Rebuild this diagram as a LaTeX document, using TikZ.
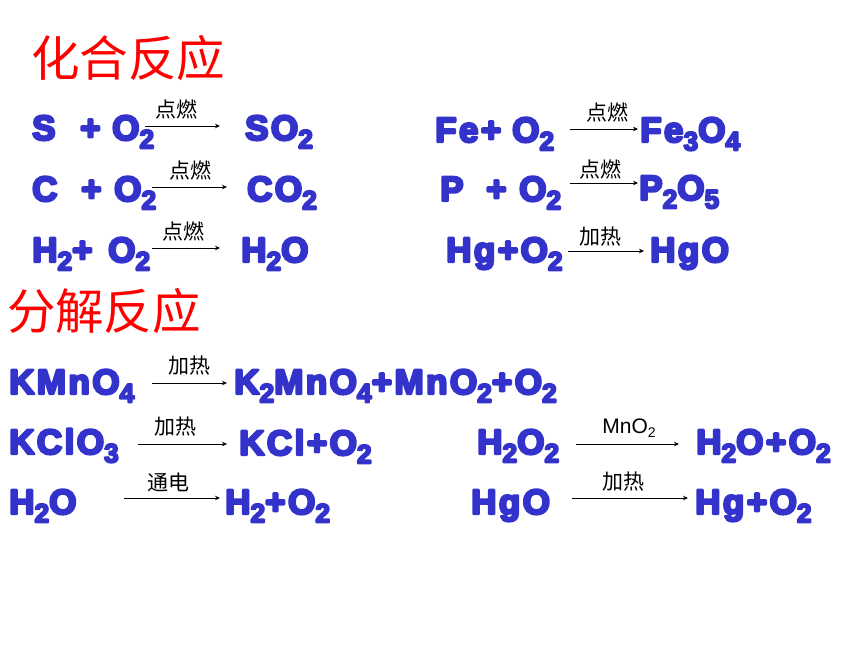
\documentclass[tikz,border=0pt]{standalone}
\usepackage{fontspec}
\newfontfamily\chemfont[FakeBold=7,LetterSpace=7]{Liberation Sans Bold}
\newfontfamily\cjkfont{Noto Sans CJK SC}
\newfontfamily\catfont{Liberation Sans}
\newcommand{\sbs}[1]{\raisebox{-0.24em}{\fontsize{26.5}{26.5}\selectfont #1}}
\newcommand{\roundjoins}{\special{pdf:code 1 j}}
\tikzset{
  x=1pt,y=-1pt,
  chem/.style={anchor=base west,inner sep=0pt,text=chemblue,font=\chemfont\fontsize{35}{35}\selectfont\roundjoins},
  heading/.style={anchor=center,inner sep=0pt,text=red,font=\cjkfont\fontsize{48.5}{48.5}\selectfont},
  cond/.style={anchor=center,inner sep=0pt,text=black,font=\cjkfont\fontsize{21}{21}\selectfont},
  condlat/.style={anchor=center,inner sep=0pt,text=black,font=\catfont\fontsize{21}{21}\selectfont},
  reactarrow/.style={draw=black,line width=1pt,-{Stealth[length=5pt,width=4.5pt]}}
}
\definecolor{chemblue}{RGB}{51,51,204}
\usetikzlibrary{arrows.meta}
\begin{document}
\begin{tikzpicture}
\useasboundingbox (0,0) rectangle (860,645);
\node[heading] (t1) at (128,58) {化合反应};
\node[heading] (t2) at (104,311) {分解反应};
% row 1
\node[chem] (a1) at (32,140) {S};
\node[chem] (a2) at (80,140) {+};
\node[chem] (a3) at (112,140) {O\sbs{2}};
\node[chem] (a4) at (245,140) {SO\sbs{2}};
\node[chem] (b1) at (435,142) {Fe+};
\node[chem] (b2) at (512,142) {O\sbs{2}};
\node[chem] (b3) at (640,142) {Fe\sbs{3}O\sbs{4}};
% row 2
\node[chem] (c1) at (32,201) {C};
\node[chem] (c2) at (81,201) {+};
\node[chem] (c3) at (114,201) {O\sbs{2}};
\node[chem] (c4) at (247,201) {CO\sbs{2}};
\node[chem] (d1) at (440,201) {P};
\node[chem] (d2) at (486,201) {+};
\node[chem] (d3) at (519,201) {O\sbs{2}};
\node[chem] (d4) at (639,200) {P\sbs{2}O\sbs{5}};
% row 3
\node[chem] (e1) at (32,262) {H\sbs{2}+};
\node[chem] (e2) at (108,262) {O\sbs{2}};
\node[chem] (e3) at (241,262) {H\sbs{2}O};
\node[chem] (f1) at (446,262) {Hg+O\sbs{2}};
\node[chem] (f2) at (650,262) {HgO};
% decomposition
\node[chem] (g1) at (9,394) {KMnO\sbs{4}};
\node[chem] (g2) at (234,394) {K\sbs{2}MnO\sbs{4}+MnO\sbs{2}+O\sbs{2}};
\node[chem] (h1) at (9,454) {KClO\sbs{3}};
\node[chem] (h2) at (239,455) {KCl+O\sbs{2}};
\node[chem] (i1) at (477,454) {H\sbs{2}O\sbs{2}};
\node[chem] (i2) at (696,454) {H\sbs{2}O+O\sbs{2}};
\node[chem] (j1) at (9,514) {H\sbs{2}O};
\node[chem] (j2) at (225,514) {H\sbs{2}+O\sbs{2}};
\node[chem] (k1) at (471,514) {HgO};
\node[chem] (k2) at (695,514) {Hg+O\sbs{2}};
% arrows
\coordinate (s1) at (145,126); \coordinate (e1a) at (220,126);
\coordinate (s2) at (152,187); \coordinate (e2a) at (227,187);
\coordinate (s3) at (152,248); \coordinate (e3a) at (220,248);
\coordinate (s4) at (570,129); \coordinate (e4a) at (638,129);
\coordinate (s5) at (570,183); \coordinate (e5a) at (638,183);
\coordinate (s6) at (568,251); \coordinate (e6a) at (644,251);
\coordinate (s7) at (152,383); \coordinate (e7a) at (227,383);
\coordinate (s8) at (138,444); \coordinate (e8a) at (227,444);
\coordinate (s9) at (124,498); \coordinate (e9a) at (220,498);
\coordinate (s10) at (576,444); \coordinate (e10a) at (679,444);
\coordinate (s11) at (572,498); \coordinate (e11a) at (688,498);
\foreach \p/\q in {s1/e1a,s2/e2a,s3/e3a,s4/e4a,s5/e5a,s6/e6a,s7/e7a,s8/e8a,s9/e9a,s10/e10a,s11/e11a}
  \draw[reactarrow] (\p) -- (\q);
\node[cond] (l1) at (176,109) {点燃};
\node[cond] (l2) at (190,170) {点燃};
\node[cond] (l3) at (183,231) {点燃};
\node[cond] (l4) at (607,112) {点燃};
\node[cond] (l5) at (600,169) {点燃};
\node[cond] (l6) at (600,237) {加热};
\node[cond] (l7) at (189,366) {加热};
\node[cond] (l8) at (175,427) {加热};
\node[cond] (l9) at (168,482) {通电};
\node[condlat] (l10) at (629,428) {MnO\raisebox{-0.2em}{\fontsize{14}{14}\selectfont 2}};
\node[cond] (l11) at (623,482) {加热};
\end{tikzpicture}
\end{document}
